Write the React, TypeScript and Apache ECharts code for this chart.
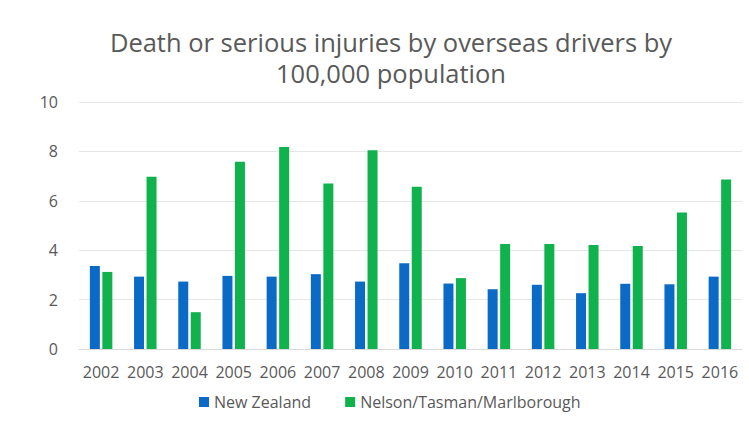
import React, { useEffect, useRef } from "react";
import * as echarts from "echarts";

const years = ["2002","2003","2004","2005","2006","2007","2008","2009","2010","2011","2012","2013","2014","2015","2016"];
const newZealand = [3.36, 2.93, 2.73, 2.96, 2.93, 3.03, 2.73, 3.47, 2.65, 2.42, 2.6, 2.26, 2.64, 2.62, 2.93];
const nelsonTasmanMarlborough = [3.12, 6.97, 1.49, 7.58, 8.18, 6.7, 8.05, 6.57, 2.87, 4.25, 4.25, 4.21, 4.17, 5.53, 6.86];
const titleText = "Death or serious injuries by overseas drivers by\n100,000 population";

const FONT = "'Open Sans', 'Noto Sans', sans-serif";
const GREY = "#595959";

export default function App() {
  const ref = useRef<HTMLDivElement>(null);
  useEffect(() => {
    if (!ref.current) return;
    const chart = echarts.init(ref.current, undefined, { renderer: "svg" });
    chart.setOption({
      animation: false,
      backgroundColor: "#ffffff",
      title: {
        text: titleText,
        left: 386,
        top: 21,
        textAlign: "center",
        textStyle: { fontFamily: FONT, fontSize: 25.5, fontWeight: "normal", color: GREY, lineHeight: 31 },
      },
      legend: {
        top: 389,
        left: 194,
        itemWidth: 10,
        itemHeight: 10,
        itemGap: 34,
        icon: "rect",
        textStyle: { fontFamily: FONT, fontSize: 16, color: GREY },
      },
      grid: { left: 79, right: 7, top: 102, bottom: 79 },
      xAxis: {
        type: "category",
        data: years,
        axisLine: { lineStyle: { color: "#d9d9d9" } },
        axisTick: { show: false },
        axisLabel: { fontFamily: FONT, fontSize: 16, color: GREY, margin: 15, interval: 0 },
      },
      yAxis: {
        type: "value",
        min: 0,
        max: 10,
        interval: 2,
        axisLine: { show: false },
        axisTick: { show: false },
        axisLabel: { fontFamily: FONT, fontSize: 16, color: GREY, margin: 21 },
        splitLine: { lineStyle: { color: "#e6e6e6" } },
      },
      series: [
        {
          name: "New Zealand",
          type: "bar",
          data: newZealand,
          barWidth: 10,
          barGap: "25%",
          itemStyle: { color: "#0b6ac6" },
        },
        {
          name: "Nelson/Tasman/Marlborough",
          type: "bar",
          data: nelsonTasmanMarlborough,
          barWidth: 10,
          barGap: "25%",
          itemStyle: { color: "#0fb24c" },
        },
      ],
    });
    return () => chart.dispose();
  }, []);
  return <div ref={ref} style={{ width: 749, height: 428, position: "absolute", left: 0, top: 0 }} />;
}
